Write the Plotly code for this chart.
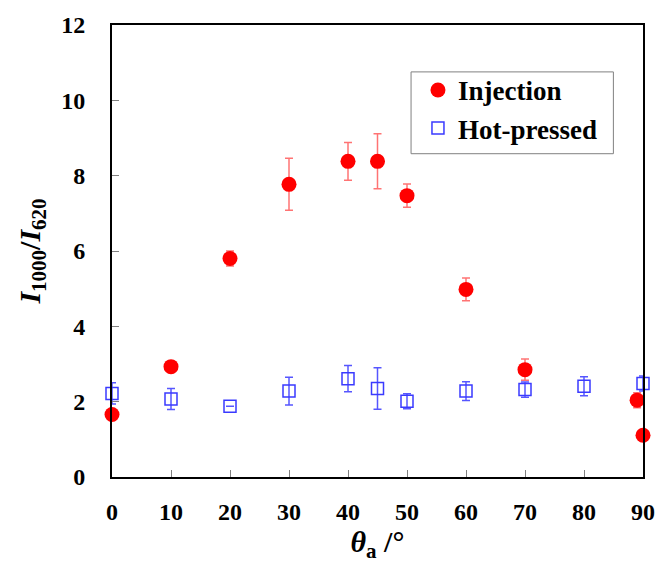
import plotly.graph_objects as go

# Injection series
inj_x = [0, 10, 20, 30, 40, 45, 50, 60, 70, 89, 90]
inj_y = [1.66, 2.93, 5.80, 7.77, 8.38, 8.38, 7.47, 4.98, 2.85, 2.04, 1.11]
inj_err = [0.0, 0.0, 0.2, 0.69, 0.5, 0.73, 0.31, 0.3, 0.28, 0.2, 0.0]

# Hot-pressed series
hp_x = [0, 10, 20, 30, 40, 45, 50, 60, 70, 80, 90]
hp_y = [2.22, 2.07, 1.88, 2.28, 2.61, 2.35, 2.01, 2.28, 2.32, 2.41, 2.48]
hp_err = [0.28, 0.28, 0.0, 0.37, 0.35, 0.55, 0.2, 0.25, 0.2, 0.25, 0.2]

x_ticks = [0, 10, 20, 30, 40, 50, 60, 70, 80, 90]
y_ticks = [0, 2, 4, 6, 8, 10, 12]

font_family = "Liberation Serif"

fig = go.Figure()
fig.add_trace(go.Scatter(
    x=hp_x, y=hp_y, mode="markers", name="<b>Hot-pressed</b>", legendrank=2,
    marker=dict(symbol="square-open", size=12, color="#3a3aff", line=dict(width=1.5)),
    error_y=dict(type="data", array=hp_err, visible=True, color="rgba(30,30,255,0.75)", thickness=1.5, width=4),
    cliponaxis=False,
))
fig.add_trace(go.Scatter(
    x=inj_x, y=inj_y, mode="markers", name="<b>Injection</b>", legendrank=1,
    marker=dict(symbol="circle", size=15, color="#ff0000"),
    error_y=dict(type="data", array=inj_err, visible=True, color="rgba(255,0,0,0.55)", thickness=1.5, width=4),
    cliponaxis=False,
))
fig.add_trace(go.Scatter(x=[None], y=[None], xaxis="x2", yaxis="y2", showlegend=False, hoverinfo="skip"))

fig.add_shape(type="rect", xref="paper", yref="paper",
              x0=(415 - 112) / 538, x1=(620 - 112) / 538,
              y0=(477 - 153) / 453, y1=(477 - 71) / 453,
              line=dict(color="#808080", width=1), fillcolor="rgba(0,0,0,0)", layer="above")

fig.update_layout(
    width=667, height=567,
    margin=dict(l=112, r=17, t=24, b=90),
    paper_bgcolor="white", plot_bgcolor="white",
    font=dict(family=font_family, size=24, color="black"),
    showlegend=True,
    legend=dict(
        x=(422 - 112) / 538, y=(477 - 65) / 453, xanchor="left", yanchor="top",
        borderwidth=0, bgcolor="rgba(0,0,0,0)",
        font=dict(family=font_family, size=27, color="black"),
        traceorder="normal",
        itemwidth=30,
    ),
    xaxis=dict(
        range=[0, 90], tickvals=x_ticks, ticktext=[f"<b>{v}</b>" for v in x_ticks],
        ticks="outside", ticklen=12, tickcolor="rgba(0,0,0,0)", tickwidth=1,
        showline=True, linecolor="black", linewidth=2, mirror=True,
        showgrid=False, zeroline=False,
        tickfont=dict(family=font_family, size=24),
        title=dict(text="<b><i>θ</i><sub>a</sub> /°</b>", font=dict(family=font_family, size=30), standoff=0),
    ),
    yaxis=dict(
        range=[0, 12], tickvals=y_ticks, ticktext=[f"<b>{v}</b>" for v in y_ticks],
        ticks="outside", ticklen=20, tickcolor="rgba(0,0,0,0)", tickwidth=1,
        showline=True, linecolor="black", linewidth=2, mirror=True,
        showgrid=False, zeroline=False,
        tickfont=dict(family=font_family, size=24),
        title=dict(text="<b><i>I</i><sub>1000</sub>/<i>I</i><sub>620</sub></b>", font=dict(family=font_family, size=30), standoff=12),
    ),
    xaxis2=dict(
        overlaying="x", matches="x", range=[0, 90], tickvals=x_ticks, showticklabels=False,
        ticks="inside", ticklen=7, tickcolor="#808080", tickwidth=1,
        showline=False, showgrid=False, zeroline=False,
    ),
    yaxis2=dict(
        overlaying="y", matches="y", range=[0, 12], tickvals=y_ticks, showticklabels=False,
        ticks="inside", ticklen=7, tickcolor="#808080", tickwidth=1,
        showline=False, showgrid=False, zeroline=False,
    ),
)

fig.write_html("out.html")
